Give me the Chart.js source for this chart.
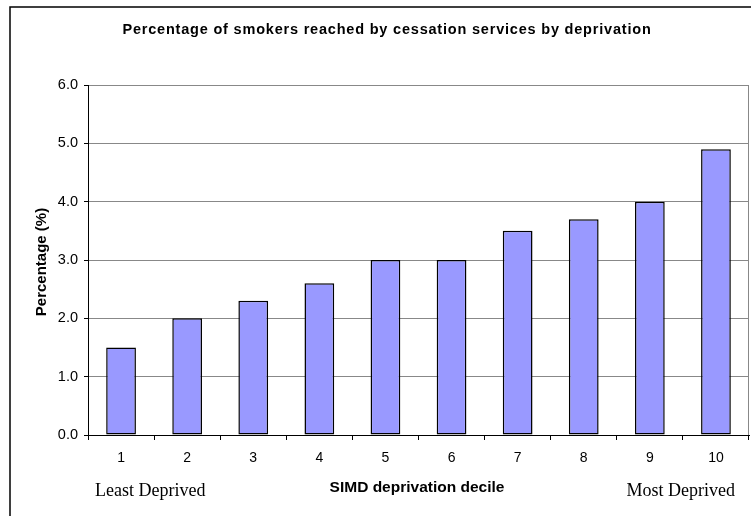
<!DOCTYPE html>
<html>
<head>
<meta charset="utf-8">
<script src="https://cdn.jsdelivr.net/npm/chart.js@4/dist/chart.umd.min.js"></script>
<style>
  html, body { margin: 0; padding: 0; background: #fff; }
  #wrap { width: 751px; height: 516px; position: relative; }
</style>
</head>
<body>
<div id="wrap"><canvas id="c" width="751" height="516"></canvas></div>
<script>
// SIMD deprivation deciles (1 = least deprived, 10 = most deprived)
const deciles = ['1', '2', '3', '4', '5', '6', '7', '8', '9', '10'];
// Percentage of smokers reached by cessation services in each decile
const reachedPct = [1.5, 2.0, 2.3, 2.6, 3.0, 3.0, 3.5, 3.7, 4.0, 4.9];
// Value axis range
const yMin = 0, yMax = 6, yStep = 1;

const titleText = 'Percentage of smokers reached by cessation services by deprivation';
const yTitle = 'Percentage (%)';
const xTitle = 'SIMD deprivation decile';
const leftNote = 'Least Deprived';
const rightNote = 'Most Deprived';

const SANS = '"Liberation Sans", Arial, sans-serif';
const SERIF = '"Liberation Serif", "Times New Roman", serif';

// Frame, titles and end notes drawn around the plot
const decorations = {
  id: 'decorations',
  beforeDraw(chart) {
    const ctx = chart.ctx;
    ctx.save();
    ctx.fillStyle = '#fff';
    ctx.fillRect(0, 0, chart.width, chart.height);
    ctx.strokeStyle = '#000';
    ctx.lineWidth = 1.5;
    ctx.strokeRect(10, 7, chart.width + 20, chart.height + 20);
    ctx.restore();
  },
  afterDraw(chart) {
    const ctx = chart.ctx;
    const a = chart.chartArea;
    ctx.save();
    // plot area right edge
    ctx.strokeStyle = '#888';
    ctx.lineWidth = 1;
    ctx.beginPath();
    ctx.moveTo(Math.round(a.right) - 0.5, a.top);
    ctx.lineTo(Math.round(a.right) - 0.5, a.bottom);
    ctx.stroke();

    ctx.fillStyle = '#000';
    ctx.textBaseline = 'alphabetic';
    ctx.textAlign = 'center';

    // chart title, slightly tracked out
    ctx.font = 'bold 14.5px ' + SANS;
    if ('letterSpacing' in ctx) ctx.letterSpacing = '0.8px';
    ctx.fillText(titleText, 387, 34);
    if ('letterSpacing' in ctx) ctx.letterSpacing = '0px';

    // axis titles
    ctx.font = 'bold 15.5px ' + SANS;
    ctx.fillText(xTitle, 417, 492);

    ctx.save();
    ctx.font = 'bold 15px ' + SANS;
    ctx.translate(45.5, 262);
    ctx.rotate(-Math.PI / 2);
    ctx.fillText(yTitle, 0, 0);
    ctx.restore();

    // end notes under the decile axis
    ctx.font = '18px ' + SERIF;
    ctx.textAlign = 'left';
    ctx.fillText(leftNote, 95, 496);
    ctx.textAlign = 'right';
    ctx.fillText(rightNote, 735, 496);
    ctx.restore();
  }
};

new Chart(document.getElementById('c'), {
  type: 'bar',
  data: {
    labels: deciles,
    datasets: [{
      data: reachedPct,
      backgroundColor: '#9999FF',
      borderColor: '#000',
      borderWidth: 1.5,
      borderSkipped: false,
      categoryPercentage: 1,
      barPercentage: 0.45
    }]
  },
  options: {
    responsive: false,
    animation: false,
    devicePixelRatio: 1,
    layout: { padding: { left: 0, top: 85, right: 2, bottom: 0 } },
    plugins: {
      legend: { display: false },
      title: { display: false },
      tooltip: { enabled: false }
    },
    scales: {
      x: {
        grid: {
          display: true,
          offset: true,
          drawOnChartArea: false,
          drawTicks: true,
          tickLength: 5,
          tickColor: '#000'
        },
        border: { display: true, color: '#000', width: 1 },
        ticks: {
          color: '#000',
          padding: 10,
          font: { family: SANS, size: 14 }
        },
        afterFit(scale) { scale.height = 81; }
      },
      y: {
        min: yMin,
        max: yMax,
        grid: {
          color: '#888',
          drawTicks: true,
          tickLength: 4,
          tickColor: '#000'
        },
        border: { display: true, color: '#000', width: 1 },
        ticks: {
          stepSize: yStep,
          color: '#000',
          padding: 6,
          font: { family: SANS, size: 14.5 },
          callback: v => Number(v).toFixed(1)
        },
        afterFit(scale) { scale.width = 88; }
      }
    }
  },
  plugins: [decorations]
});
</script>
</body>
</html>
